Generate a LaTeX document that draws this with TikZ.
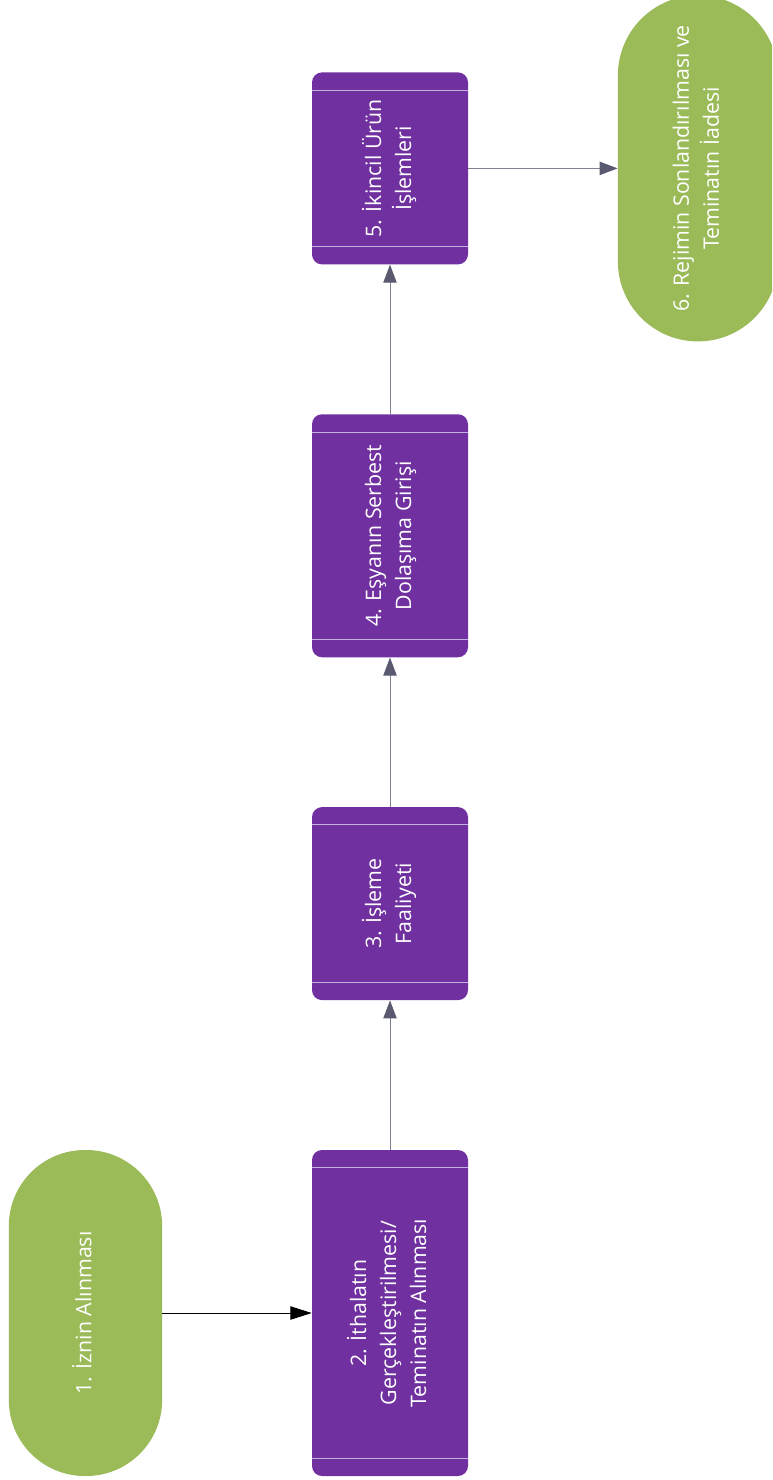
\documentclass[tikz,border=0pt]{standalone}
\usepackage{fontspec}
\setmainfont{Open Sans}
\usepackage{graphicx}
\usepackage{xcolor}
\usetikzlibrary{arrows.meta, positioning}

\definecolor{stepPurple}{RGB}{112,48,160}
\definecolor{termGreen}{RGB}{155,187,89}
\definecolor{sepLine}{RGB}{196,176,222}
\definecolor{flowGray}{RGB}{128,128,145}
\definecolor{headGray}{RGB}{89,89,112}

\newcommand{\vlabel}[1]{\rotatebox{90}{\begin{tabular}{@{}c@{}}#1\end{tabular}}}

\begin{document}
\begin{tikzpicture}[
  x=0.75pt, y=-0.75pt,
  node distance=112pt and 112pt,
  stepbox/.style={fill=stepPurple, rounded corners=7.5pt, minimum width=117pt, inner sep=0pt,
    text=white, font=\fontsize{16}{22.5}\selectfont},
  terminal/.style={fill=termGreen, rounded corners=57pt, minimum width=115pt, inner sep=0pt,
    text=white, font=\fontsize{16}{22.5}\selectfont},
  sep/.style={draw=sepLine, line width=0.75pt},
  start/.style={draw=black, line width=0.75pt, -{Triangle[length=16pt, width=10pt]}},
  flow/.style={draw=flowGray, line width=0.75pt, -{Triangle[length=13.5pt, width=10pt, color=headGray, fill=headGray]}}
]
\useasboundingbox (0,0) rectangle (772,1480);
\clip (0,0) rectangle (772,1480);

% Nodes
\node[stepbox, minimum height=244.5pt] (import) at (390,1313) {\vlabel{2. İthalatın\\Gerçekleştirilmesi/\\Teminatın Alınması}};
\node[terminal, minimum height=244.5pt, left=of import] (permit) {\vlabel{1. İznin Alınması}};
\node[stepbox, minimum height=144.75pt, above=of import] (process) {\vlabel{3. İşleme\\Faaliyeti}};
\node[stepbox, minimum height=182.25pt, above=of process] (release) {\vlabel{4. Eşyanın Serbest\\Dolaşıma Girişi}};
\node[stepbox, minimum height=144pt, above=of release] (second) {\vlabel{5. İkincil Ürün\\İşlemleri}};
\node[terminal, minimum width=120pt, minimum height=259.5pt, rounded corners=60pt, right=of second] (close) {\vlabel{6. Rejimin Sonlandırılması ve\\Teminatın İadesi}};

% Bands
\foreach \n in {import, process, release, second} {
  \draw[sep] ([yshift=-13.5pt]\n.north west) -- ([yshift=-13.5pt]\n.north east);
  \draw[sep] ([yshift=13.5pt]\n.south west) -- ([yshift=13.5pt]\n.south east);
}

% Pointers
\draw[start] (permit) -- (import);
\draw[flow] (import) -- (process);
\draw[flow] (process) -- (release);
\draw[flow] (release) -- (second);
\draw[flow] (second) -- (close);
\end{tikzpicture}
\end{document}
